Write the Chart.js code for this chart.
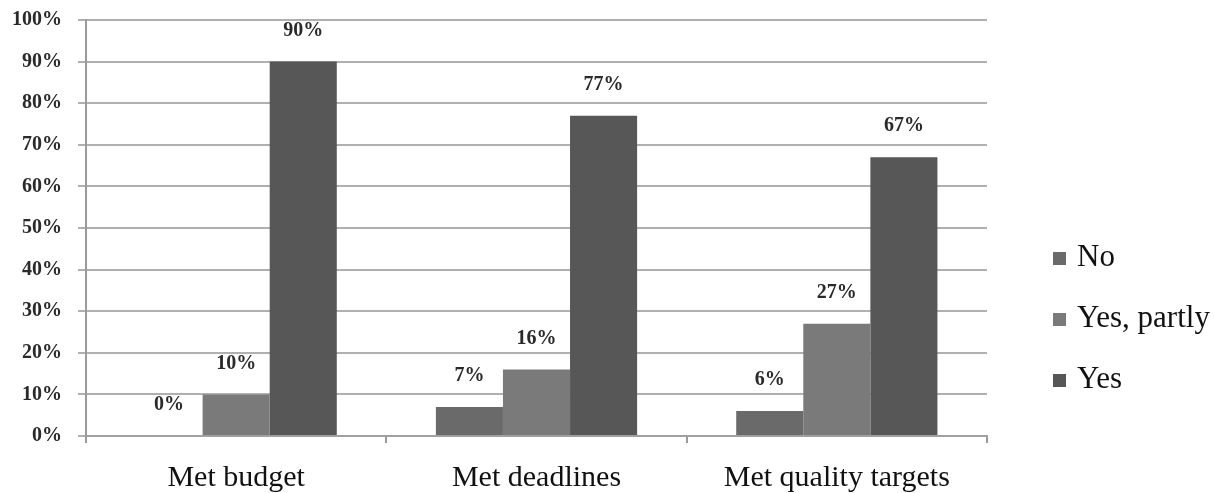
<!DOCTYPE html>
<html>
<head>
<meta charset="utf-8">
<script src="https://cdn.jsdelivr.net/npm/chart.js@4/dist/chart.umd.min.js"></script>
<style>
  html, body { margin: 0; padding: 0; background: #ffffff; }
  #wrap { width: 1214px; height: 493px; position: relative; }
</style>
</head>
<body>
<div id="wrap"><canvas id="c" width="1214" height="493"></canvas></div>
<script>
// Project outcomes, share of responses per answer
const categories = ['Met budget', 'Met deadlines', 'Met quality targets'];
const seriesNames = ['No', 'Yes, partly', 'Yes'];
const noValues = [0, 7, 6];
const partlyValues = [10, 16, 27];
const yesValues = [90, 77, 67];
const yTicks = [0, 10, 20, 30, 40, 50, 60, 70, 80, 90, 100];

const seriesColors = ['#6a6a6a', '#7a7a7a', '#575757'];
const serif = '"Liberation Serif", "Times New Roman", serif';

// Percent labels above each bar
const valueLabels = {
  id: 'valueLabels',
  afterDatasetsDraw(chart) {
    const ctx = chart.ctx;
    ctx.save();
    ctx.font = 'bold 20px ' + serif;
    ctx.fillStyle = '#2a2a2a';
    ctx.textAlign = 'center';
    ctx.textBaseline = 'middle';
    chart.data.datasets.forEach((ds, i) => {
      const meta = chart.getDatasetMeta(i);
      meta.data.forEach((bar, j) => {
        ctx.fillText(ds.data[j] + '%', bar.x, bar.y - 31);
      });
    });
    ctx.restore();
  }
};

// Vertical legend on the right
const sideLegend = {
  id: 'sideLegend',
  afterDraw(chart) {
    const ctx = chart.ctx;
    ctx.save();
    ctx.font = '31px ' + serif;
    ctx.textBaseline = 'alphabetic';
    ctx.textAlign = 'left';
    const boxX = 1053, textX = 1077, firstBase = 266, step = 61, box = 13;
    chart.data.datasets.forEach((ds, i) => {
      const base = firstBase + i * step;
      ctx.fillStyle = ds.backgroundColor;
      ctx.fillRect(boxX, base - box - 1, box, box);
      ctx.fillStyle = '#111111';
      ctx.fillText(ds.label, textX, base);
    });
    ctx.restore();
  }
};

const datasets = [noValues, partlyValues, yesValues].map((vals, i) => ({
  label: seriesNames[i],
  data: vals,
  backgroundColor: seriesColors[i],
  borderWidth: 0,
  categoryPercentage: 0.67,
  barPercentage: 1.0
}));

new Chart(document.getElementById('c'), {
  type: 'bar',
  data: { labels: categories, datasets },
  plugins: [valueLabels, sideLegend],
  options: {
    responsive: false,
    animation: false,
    devicePixelRatio: 1,
    layout: { padding: { top: 20, right: 227, bottom: 0, left: 0 } },
    plugins: {
      legend: { display: false },
      tooltip: { enabled: false }
    },
    scales: {
      x: {
        offset: true,
        grid: {
          offset: true,
          drawOnChartArea: false,
          drawTicks: true,
          tickLength: 7,
          color: '#9a9a9a',
          lineWidth: 2
        },
        border: { display: true, color: '#a0a0a0', width: 2 },
        ticks: {
          font: { family: serif, size: 30 },
          color: '#111111',
          padding: 17,
          maxRotation: 0,
          autoSkip: false
        },
        afterFit(scale) { scale.height = 57; }
      },
      y: {
        min: 0,
        max: 100,
        afterBuildTicks(scale) { scale.ticks = yTicks.map(v => ({ value: v })); },
        grid: {
          color: '#b0b0b0',
          lineWidth: 2,
          drawTicks: true,
          tickLength: 8
        },
        border: { display: true, color: '#9a9a9a', width: 2 },
        ticks: {
          font: { family: serif, size: 20, weight: 'bold' },
          color: '#2a2a2a',
          padding: 16,
          callback: v => v + '%'
        },
        afterFit(scale) {
          scale.width = 86;
          scale.paddingTop = 0;
          scale.paddingBottom = 0;
        }
      }
    }
  }
});
</script>
</body>
</html>
